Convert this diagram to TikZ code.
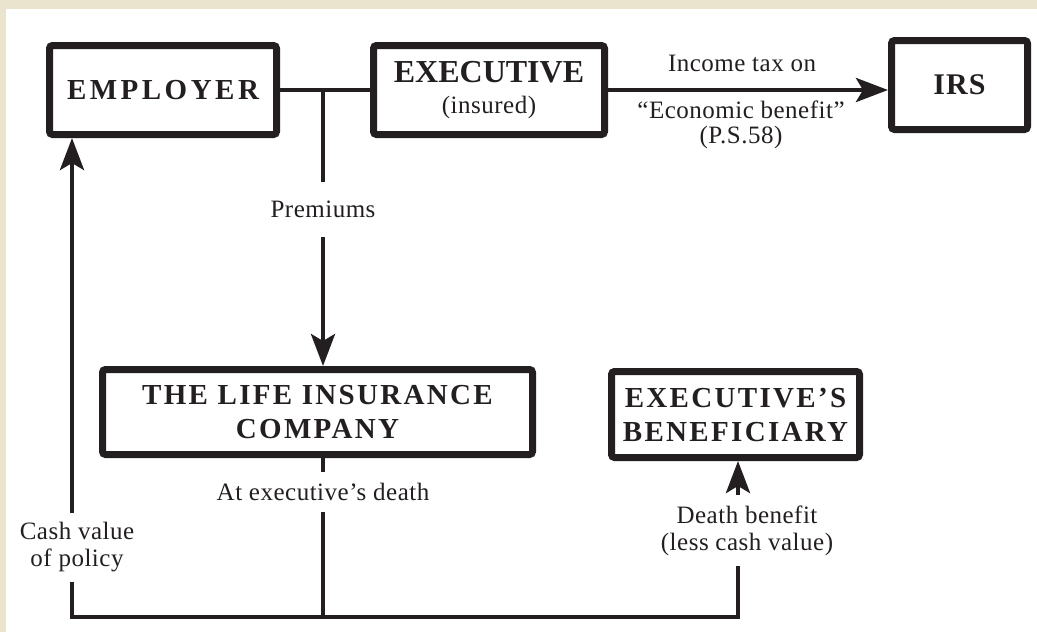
\documentclass[tikz,border=0pt]{standalone}
\usepackage{fontspec}
\setmainfont{Liberation Serif}
\newfontfamily\boxfont{Liberation Serif}[LetterSpace=8]
\newfontfamily\empfont{Liberation Serif}[LetterSpace=12]
\newfontfamily\irsfont{Liberation Serif}[LetterSpace=4]
\newfontfamily\boxfontn{Liberation Serif}
\newfontfamily\lblfont{Liberation Serif}[LetterSpace=2]
\usetikzlibrary{arrows.meta}
\definecolor{ink}{HTML}{231F20}
\definecolor{beige}{HTML}{EAE4CF}
\begin{document}
\begin{tikzpicture}[x=1pt,y=-1pt,
  box/.style={draw=ink, line width=7pt, rounded corners=3pt, fill=white, align=center,
    font=\boxfont\bfseries\fontsize{29}{34}\selectfont, text=ink, inner sep=0pt},
  lbl/.style={align=center, font=\lblfont\fontsize{25}{27}\selectfont, text=ink, inner sep=0pt},
  conn/.style={draw=ink, line width=4.5pt},
  arr/.style={conn, -{Stealth[length=32pt,width=24pt,inset=7pt]}},
]
\useasboundingbox (0,0) rectangle (1037,632);
\fill[beige] (0,0) rectangle (1037,632);
\fill[white] (6,9) rectangle (1037,632);

\node[box, minimum width=227pt, minimum height=89pt, font=\empfont\bfseries\fontsize{29}{34}\selectfont] (emp) at (163,90) {EMPLOYER};
\node[box, minimum width=231pt, minimum height=89pt] (exe) at (489,90)
  {{\boxfontn\fontsize{32}{34}\selectfont EXECUTIVE}\\[-3pt]{\lblfont\mdseries\fontsize{25}{27}\selectfont (insured)}};
\node[box, minimum width=136pt, minimum height=89pt, font=\irsfont\bfseries\fontsize{30}{34}\selectfont] (irs) at (959.5,85) {IRS};
\node[box, minimum width=430pt, minimum height=85pt] (life) at (317.5,412) {THE LIFE INSURANCE\\COMPANY};
\node[box, minimum width=248pt, minimum height=86pt] (ben) at (735.5,414.5) {EXECUTIVE’S\\BENEFICIARY};

\node[lbl] (tax) at (742,63) {Income tax on};
\node[lbl, font=\lblfont\fontsize{25}{25}\selectfont] (econ) at (741,124.5) {“Economic benefit”\\(P.S.58)};
\node[lbl, minimum height=55pt] (prem) at (323,209.5) {Premiums};
\node[lbl, minimum height=40pt] (death) at (323,492) {At executive’s death};
\node[lbl, minimum height=69pt] (cash) at (77,547.5) {Cash value\\of policy};
\node[lbl, minimum height=71pt] (dben) at (747,530.5) {Death benefit\\(less cash value)};

\coordinate (J) at (323,90);
\coordinate (BL) at (72,617);
\coordinate (BM) at (323,617);
\coordinate (BR) at (738,617);

\draw[conn] (emp.east) -- (exe.west);
\draw[arr] (exe.east) -- (exe.east -| irs.west);
\draw[conn] (J) -- (prem.north);
\draw[arr] (prem.south) -- (prem.south |- life.north);
\draw[conn] (death.north |- life.south) -- (death.north);
\draw[conn] (death.south) -- (BM);
\draw[conn] (cash.south -| BL) -- (BL) -- (BR) -- (dben.south -| BR);
\draw[arr] (dben.north -| BR) -- (BR |- ben.south);
\draw[arr] (cash.north -| BL) -- (BL |- emp.south);
\end{tikzpicture}
\end{document}
